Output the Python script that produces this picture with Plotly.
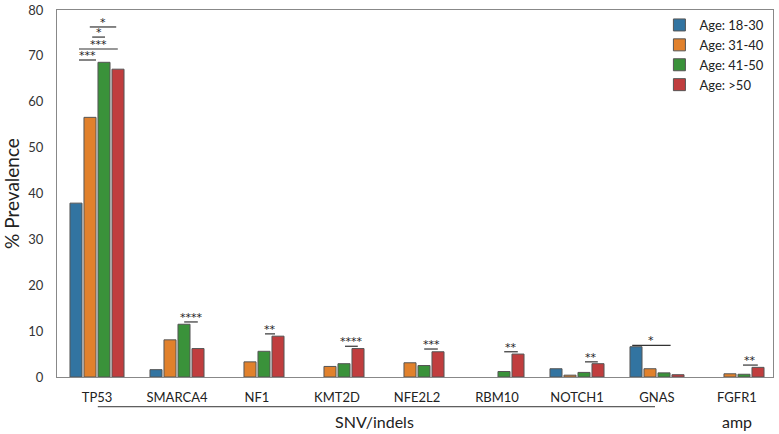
import plotly.graph_objects as go

# genes on the x axis
genes = ['TP53', 'SMARCA4', 'NF1', 'KMT2D', 'NFE2L2', 'RBM10', 'NOTCH1', 'GNAS', 'FGFR1']
age_groups = ['Age: 18-30', 'Age: 31-40', 'Age: 41-50', 'Age: >50']

# % prevalence per age group
age_18_30 = [37.9, 1.6, 0, 0, 0, 0, 1.8, 6.6, 0]
age_31_40 = [56.6, 8.1, 3.3, 2.3, 3.1, 0, 0.4, 1.8, 0.7]
age_41_50 = [68.6, 11.5, 5.6, 2.9, 2.5, 1.2, 1.0, 0.9, 0.6]
age_over_50 = [67.1, 6.2, 8.9, 6.2, 5.5, 5.0, 2.9, 0.5, 2.1]

# significance brackets: (gene index, left offset, right offset, height, label)
brackets = [
    (0, -0.225, -0.012, 69.1, '***'),
    (0, -0.225, 0.26, 71.5, '***'),
    (0, -0.06, 0.10, 74.1, '*'),
    (0, -0.09, 0.24, 76.3, '*'),
    (1, 0.09, 0.26, 12.0, '****'),
    (2, 0.10, 0.225, 9.4, '**'),
    (3, 0.10, 0.26, 6.7, '****'),
    (4, 0.09, 0.26, 6.1, '***'),
    (5, 0.09, 0.26, 5.5, '**'),
    (6, 0.10, 0.26, 3.3, '**'),
    (7, -0.31, 0.17, 6.9, '*'),
    (8, 0.075, 0.26, 2.6, '**'),
]

# alteration type groups: (first gene, last gene, label)
alt_groups = [(0, 7, 'SNV/indels'), (8, 8, 'amp')]

colors = ['#3274a1', '#e1812c', '#3a923a', '#c03d3e']
font = 'Lato, Noto Sans, sans-serif'

fig = go.Figure()
for name, vals, col in zip(age_groups, [age_18_30, age_31_40, age_41_50, age_over_50], colors):
    fig.add_trace(go.Bar(
        x=list(range(len(genes))), y=vals, name=name,
        marker=dict(color=col, line=dict(color='#555555',
                                         width=[1 if v > 0 else 0 for v in vals])),
    ))

for gi, x0, x1, h, lab in brackets:
    fig.add_shape(type='line', xref='x', yref='y', x0=gi + x0, x1=gi + x1, y0=h, y1=h,
                  line=dict(color='#333333', width=1.2))
    fig.add_annotation(x=gi + (x0 + x1) / 2, y=h, xref='x', yref='y', text=lab,
                       showarrow=False, yanchor='bottom', yshift=-4,
                       font=dict(size=11, color='#222222', family='DejaVu Sans'))

for g0, g1, lab in alt_groups:
    if g1 > g0:
        fig.add_shape(type='line', xref='x', yref='paper', x0=g0 + 0.01, x1=g1 - 0.025,
                      y0=-0.081, y1=-0.081, line=dict(color='#333333', width=1))
    fig.add_annotation(x=(g0 + g1) / 2 if g1 > g0 else g0, y=-0.122, xref='x', yref='paper',
                       text=lab, showarrow=False, yanchor='middle',
                       xshift=(0 if g1 == g0 else -3),
                       font=dict(size=16, color='#222222', family=font))

fig.update_layout(
    width=779, height=434,
    margin=dict(l=57, r=6, t=10, b=57),
    plot_bgcolor='white', paper_bgcolor='white',
    barmode='group', bargap=0.3, bargroupgap=0.14,
    font=dict(family=font, size=13, color='#333333'),
    legend=dict(x=0.995, y=1.0, xanchor='right', yanchor='top',
                font=dict(size=13, color='#222222'), bgcolor='rgba(0,0,0,0)',
                tracegroupgap=0, itemwidth=30),
    showlegend=True,
)
fig.update_xaxes(
    range=[-0.5, 8.45], tickmode='array', tickvals=list(range(len(genes))), ticktext=genes,
    showline=True, linecolor='#888888', linewidth=1, mirror=True, showgrid=False,
    ticks='', ticklabelstandoff=8, tickfont=dict(size=13, color='#222222'), automargin=False,
)
fig.update_yaxes(
    range=[0, 80], dtick=10, showline=True, linecolor='#888888', linewidth=1, mirror=True,
    showgrid=False, zeroline=False, ticks='', ticklabelstandoff=10, automargin=False,
    tickfont=dict(size=13, color='#333333'),
    title=dict(text='% Prevalence', font=dict(size=19, color='#222222'), standoff=10),
)

fig.write_html('out.html', config={'displayModeBar': False},
               post_script="document.body.style.margin='0';")
